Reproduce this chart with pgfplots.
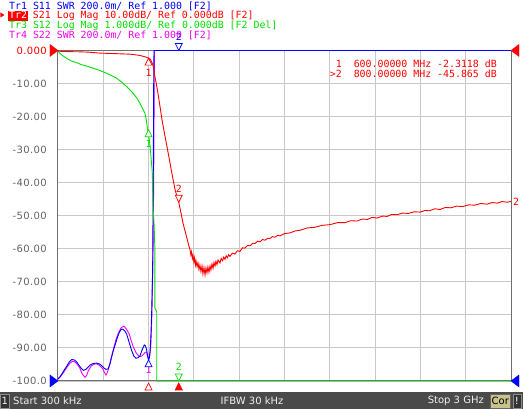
\documentclass[border=0pt]{standalone}
\usepackage{pgfplots}
\pgfplotsset{compat=1.18}
\usepackage{fontspec}
\setmainfont{DejaVu Sans}
\newfontfamily\hdrf{DejaVu Sans Mono}
\newfontfamily\tickf[LetterSpace=4]{DejaVu Sans}
\definecolor{vblue}{RGB}{0,0,255}
\definecolor{vred}{RGB}{255,0,0}
\definecolor{vgreen}{RGB}{0,224,0}
\definecolor{vmag}{RGB}{240,0,240}
\definecolor{gridc}{RGB}{200,200,200}
\definecolor{framec}{RGB}{110,110,110}
\definecolor{tickc}{RGB}{100,100,100}
\definecolor{barc}{RGB}{74,74,74}
\definecolor{corc}{RGB}{200,194,140}
\pgfdeclareplotmark{mdown}{\pgfpathmoveto{\pgfqpoint{0pt}{0pt}}\pgfpathlineto{\pgfqpoint{-3.5pt}{7pt}}\pgfpathlineto{\pgfqpoint{3.5pt}{7pt}}\pgfpathclose\pgfusepathqfillstroke}
\pgfdeclareplotmark{mup}{\pgfpathmoveto{\pgfqpoint{0pt}{0pt}}\pgfpathlineto{\pgfqpoint{-3.5pt}{-7pt}}\pgfpathlineto{\pgfqpoint{3.5pt}{-7pt}}\pgfpathclose\pgfusepathqfillstroke}
\pgfdeclareplotmark{mright}{\pgfpathmoveto{\pgfqpoint{0pt}{0pt}}\pgfpathlineto{\pgfqpoint{-8pt}{6pt}}\pgfpathlineto{\pgfqpoint{-8pt}{-6pt}}\pgfpathclose\pgfusepathqfillstroke}
\pgfdeclareplotmark{mleft}{\pgfpathmoveto{\pgfqpoint{0pt}{0pt}}\pgfpathlineto{\pgfqpoint{8pt}{6pt}}\pgfpathlineto{\pgfqpoint{8pt}{-6pt}}\pgfpathclose\pgfusepathqfillstroke}
\begin{document}
\begin{tikzpicture}
\path[use as bounding box, fill=white] (-58pt,-28pt) rectangle (465pt,381pt);
\begin{axis}[
  at={(0pt,0pt)}, anchor=south west,
  scale only axis, width=453pt, height=330.5pt,
  xmin=0.3, xmax=3000, ymin=-100, ymax=0,
  xtick={300,600,...,2700}, xticklabels={},
  ytick={-100,-90,...,0},
  yticklabels={-100.0,-90.00,-80.00,-70.00,-60.00,-50.00,-40.00,-30.00,-20.00,-10.00,\textcolor{vred}{0.000}},
  yticklabel style={font=\tickf\fontsize{10}{12}\selectfont, text=tickc, anchor=east, inner sep=0pt, xshift=-11pt},
  grid=major, major grid style={draw=gridc, line width=0.9pt},
  major tick length=0pt,
  axis line style={draw=framec, line width=1pt},
  clip=false,
]
% Tr4 S22 (magenta)
\addplot[vmag, line width=0.9pt] coordinates {
(0.3,-99.5)(20,-98.5)(40,-97.2)(60,-95.8)(80,-94.6)(97,-94.0)(115,-94.3)(130,-95.1)(146,-96.2)(160,-97.8)(179,-98.9)(190,-98.3)(201,-96.9)(220,-95.5)(240,-94.9)(256,-94.8)(275,-95.3)(296,-96.3)(310,-97.6)(318,-98.2)(326,-97.5)(333,-96.6)(350,-93.5)(366,-90.6)(383,-87.7)(399,-85.6)(418,-83.9)(437,-83.4)(452,-84.2)(472,-85.8)(485,-87.8)(499,-89.7)(518,-91.5)(538,-92.6)(553,-92.5)(565,-92.0)(578,-91.3)(587,-91.3)(595,-92.8)(600,-93.6)(607,-92.5)(614,-90)(622,-80)(630,-60)(634,-40)(637,-15)(639,0)(3000,0)};
% Tr1 S11 (blue)
\addplot[vblue, line width=0.9pt] coordinates {
(0.3,-99.3)(12,-98.8)(24,-98.0)(40,-96.8)(57,-95.6)(74,-94.3)(91,-93.5)(107,-93.6)(124,-94.2)(140,-95.3)(157,-96.3)(168,-96.8)(185,-96.5)(200,-95.8)(212,-95.2)(234,-94.7)(256,-94.6)(272,-94.8)(289,-95.3)(305,-96.1)(318,-96.5)(333,-96.3)(345,-94.8)(356,-92.6)(372,-90.0)(389,-87.5)(405,-85.4)(418,-84.4)(429,-84.3)(442,-84.8)(455,-85.8)(472,-88.4)(488,-90.8)(503,-92.5)(517,-93.1)(530,-93.0)(543,-92.4)(557,-90.6)(572,-89.1)(580,-89.4)(587,-90.6)(594,-92.4)(600,-93.6)(605,-93.0)(610,-91.0)(616,-86)(621,-78.5)(627,-66.4)(631,-40)(634,-10)(636,0)(3000,0)};
% Tr3 S12 (green)
\addplot[vgreen, line width=0.9pt] coordinates {
(0.3,0)(10,-0.8)(30,-1.5)(57.6,-2.4)(90,-3.2)(124,-3.7)(157,-4.3)(190,-4.7)(223,-5.2)(256,-5.7)(290,-6.3)(323,-6.9)(356,-7.6)(389,-8.4)(420,-9.5)(455,-10.9)(478,-12)(499,-13.0)(522,-14.4)(543,-16.0)(560,-17.5)(576,-19)(585,-21)(591,-23)(598,-25)(605,-27)(611,-29.5)(616,-32.1)(621,-34.8)(625,-37.2)(627,-41.7)(630,-48)(636,-52)(642,-60)(642,-78)(654,-79)(654,-100)(660,-100)(3000,-100)};
% Tr2 S21 (red)
\addplot[vred, line width=0.9pt] coordinates {
(0.3,-0.2)(40,-0.3)(80,-0.35)(146,-0.4)(200,-0.5)(278,-0.8)(350,-0.9)(411,-1.0)(470,-1.1)(497,-1.2)(543,-1.5)(576,-1.9)(600,-2.31)(610,-2.6)(616,-3.0)(622,-3.6)(629,-4.4)(635,-5.8)(642,-7.9)(652,-10.2)(662,-12.9)(676,-17)(689,-21)(705,-25)(722,-29.1)(742,-34)(755,-37.3)(775,-42)(788,-44.2)(800,-45.9)(814,-49)(828,-52.2)(841,-54.5)(854,-56.8)(864,-58.6)(874,-60.2)(880,-61.8)(884,-60.9)(890,-62.9)(894,-62.0)(900,-63.9)(904,-62.8)(910,-64.9)(914,-63.6)(921,-65.4)(927,-64.2)(934,-66.3)(940,-64.9)(947,-66.9)(954,-65.2)(960,-67.6)(967,-65.7)(974,-67.9)(980,-65.8)(987,-67.3)(993,-65.5)(1000,-67.1)(1007,-65.2)(1013,-66.4)(1020,-64.6)(1027,-65.9)(1033,-64.2)(1040,-65.2)(1046,-63.8)(1053,-64.8)(1060,-63.4)(1073,-64.3)(1081,-62.9)(1090,-63.6)(1098,-62.5)(1106,-63.2)(1114,-62.1)(1122,-62.7)(1130,-61.8)(1139,-62.3)(1155,-61.3)(1172,-61.6)(1188,-60.6)(1205,-60.8)(1222,-59.7)(1238,-59.8)(1255,-59.0)(1272,-59.1)(1290,-58.3)(1305,-58.4)(1322,-57.7)(1338,-57.9)(1355,-57.2)(1371,-57.4)(1390,-56.8)(1404,-56.9)(1420,-56.3)(1437,-56.5)(1455,-55.9)(1470,-56.1)(1500,-55.4)(1536,-55.2)(1570,-54.6)(1603,-54.4)(1650,-53.7)(1700,-53.5)(1750,-52.9)(1801,-52.7)(1850,-52.1)(1900,-52.1)(1940,-51.5)(1980,-51.6)(2015,-51.0)(2050,-51.1)(2080,-50.5)(2113,-50.7)(2150,-50.1)(2180,-50.2)(2210,-49.6)(2245,-49.7)(2280,-49.2)(2320,-49.3)(2360,-48.8)(2398,-48.9)(2430,-48.4)(2460,-48.5)(2495,-47.9)(2530,-48.1)(2565,-47.5)(2600,-47.6)(2640,-47.1)(2682,-47.2)(2720,-46.7)(2760,-46.8)(2800,-46.3)(2841,-46.5)(2875,-46.0)(2910,-46.2)(2940,-45.7)(2974,-45.9)(3000,-45.7)};
% markers on traces
\addplot[only marks, mark=mup, mark options={draw=vred, fill=white, line width=0.7pt}] coordinates {(600,-2.31)};
\addplot[only marks, mark=mdown, mark options={draw=vred, fill=white, line width=0.7pt}] coordinates {(800,-45.9)};
\addplot[only marks, mark=mup, mark options={draw=vgreen, fill=white, line width=0.7pt}] coordinates {(600,-24)};
\addplot[only marks, mark=mup, mark options={draw=vblue, fill=white, line width=0.7pt}] coordinates {(600,-93.6)};
\addplot[only marks, mark=mdown, mark options={draw=vblue, fill=white, line width=0.7pt}] coordinates {(800,0)};
\addplot[only marks, mark=mdown, mark options={draw=vgreen, fill=white, line width=0.7pt}] coordinates {(800,-100)};
% stimulus markers under the grid
\addplot[only marks, mark=mup, mark options={draw=vred, fill=white, line width=0.7pt, yshift=-2pt}] coordinates {(600,-100)};
\addplot[only marks, mark=mup, mark options={draw=vred, fill=vred, line width=0.7pt, yshift=-2pt}] coordinates {(800,-100)};
% reference level indicators
\addplot[only marks, mark=mright, mark options={draw=vred, fill=vred}] coordinates {(0.3,0)};
\addplot[only marks, mark=mright, mark options={draw=vblue, fill=vblue}] coordinates {(0.3,-100)};
\addplot[only marks, mark=mleft, mark options={draw=vred, fill=vred}] coordinates {(3000,0)};
\addplot[only marks, mark=mleft, mark options={draw=vblue, fill=vblue}] coordinates {(3000,-100)};
% marker labels
\node[text=vred, font=\hdrf\fontsize{9.9}{12}\selectfont, inner sep=0pt] at (axis cs:600,-2.31) [yshift=-15pt] {1};
\node[text=vred, font=\hdrf\fontsize{9.9}{12}\selectfont, inner sep=0pt] at (axis cs:800,-45.9) [yshift=13pt] {2};
\node[text=vgreen, font=\hdrf\fontsize{9.9}{12}\selectfont, inner sep=0pt] at (axis cs:600,-24) [yshift=-14pt] {1};
\node[text=vmag, font=\hdrf\fontsize{9.9}{12}\selectfont, inner sep=0pt] at (axis cs:600,-93.6) [yshift=-10pt] {1};
\node[text=vblue, font=\hdrf\fontsize{9.9}{12}\selectfont, inner sep=0pt] at (axis cs:800,0) [yshift=14pt] {2};
\node[text=vgreen, font=\hdrf\fontsize{9.9}{12}\selectfont, inner sep=0pt] at (axis cs:800,-100) [yshift=14pt] {2};
\node[text=vred, font=\hdrf\fontsize{9.9}{12}\selectfont, inner sep=0pt, anchor=west] at (axis cs:3000,-45.7) [xshift=2pt] {2};
\end{axis}
% header lines
\begin{scope}[every node/.style={anchor=base west, inner sep=0pt, font=\hdrf\fontsize{9.9}{12}\selectfont}]
\node[text=vblue] at (-49pt,371.7pt) {Tr1 S11 SWR 200.0m/ Ref 1.000 [F2]};
\fill[vred] (-50pt,370pt) rectangle (-30pt,360pt);
\fill[vred] (-57.5pt,368.5pt) -- (-57.5pt,363.5pt) -- (-53.5pt,366pt) -- cycle;
\node[text=white] at (-49pt,362pt) {Tr2};
\node[text=vred] at (-25.2pt,362pt) {S21 Log Mag 10.00dB/ Ref 0.000dB [F2]};
\node[text=vgreen] at (-49pt,352pt) {Tr3 S12 Log Mag 1.000dB/ Ref 0.000dB [F2 Del]};
\node[text=vmag] at (-49pt,342pt) {Tr4 S22 SWR 200.0m/ Ref 1.000 [F2]};
\end{scope}
% marker readout
\begin{scope}[every node/.style={anchor=base east, inner sep=0pt, text=vred, font=\hdrf\fontsize{9.9}{11}\selectfont}]
\node at (439pt,313.7pt) {1\ \ 600.00000 MHz -2.3118 dB};
\node at (439pt,303.7pt) {>2\ \ 800.00000 MHz -45.865 dB};
\end{scope}
% status bar
\fill[barc] (-58pt,-28pt) rectangle (465pt,-11pt);
\filldraw[fill=black!80, draw=black!45, line width=0.6pt] (-57.7pt,-27.7pt) rectangle (-48.7pt,-13pt);
\begin{scope}[every node/.style={inner sep=0pt, text=black!6, font=\fontsize{10}{12}\selectfont}]
\node at (-53.2pt,-20pt) {1};
\node[anchor=west] at (-45pt,-20pt) {Start 300 kHz};
\node at (194pt,-20pt) {IFBW 30 kHz};
\node[anchor=east] at (426pt,-20pt) {Stop 3 GHz};
\end{scope}
\filldraw[fill=corc, draw=black!60, line width=0.6pt] (432.7pt,-27pt) rectangle (452pt,-13pt);
\node[inner sep=0pt, text=black, font=\fontsize{10}{12}\selectfont] at (442.35pt,-20pt) {Cor};
\filldraw[fill=black!80, draw=black!45, line width=0.6pt] (455pt,-27pt) rectangle (463pt,-13pt);
\node[inner sep=0pt, text=white, font=\fontsize{10}{12}\selectfont] at (459pt,-20pt) {!};
\end{tikzpicture}
\end{document}
